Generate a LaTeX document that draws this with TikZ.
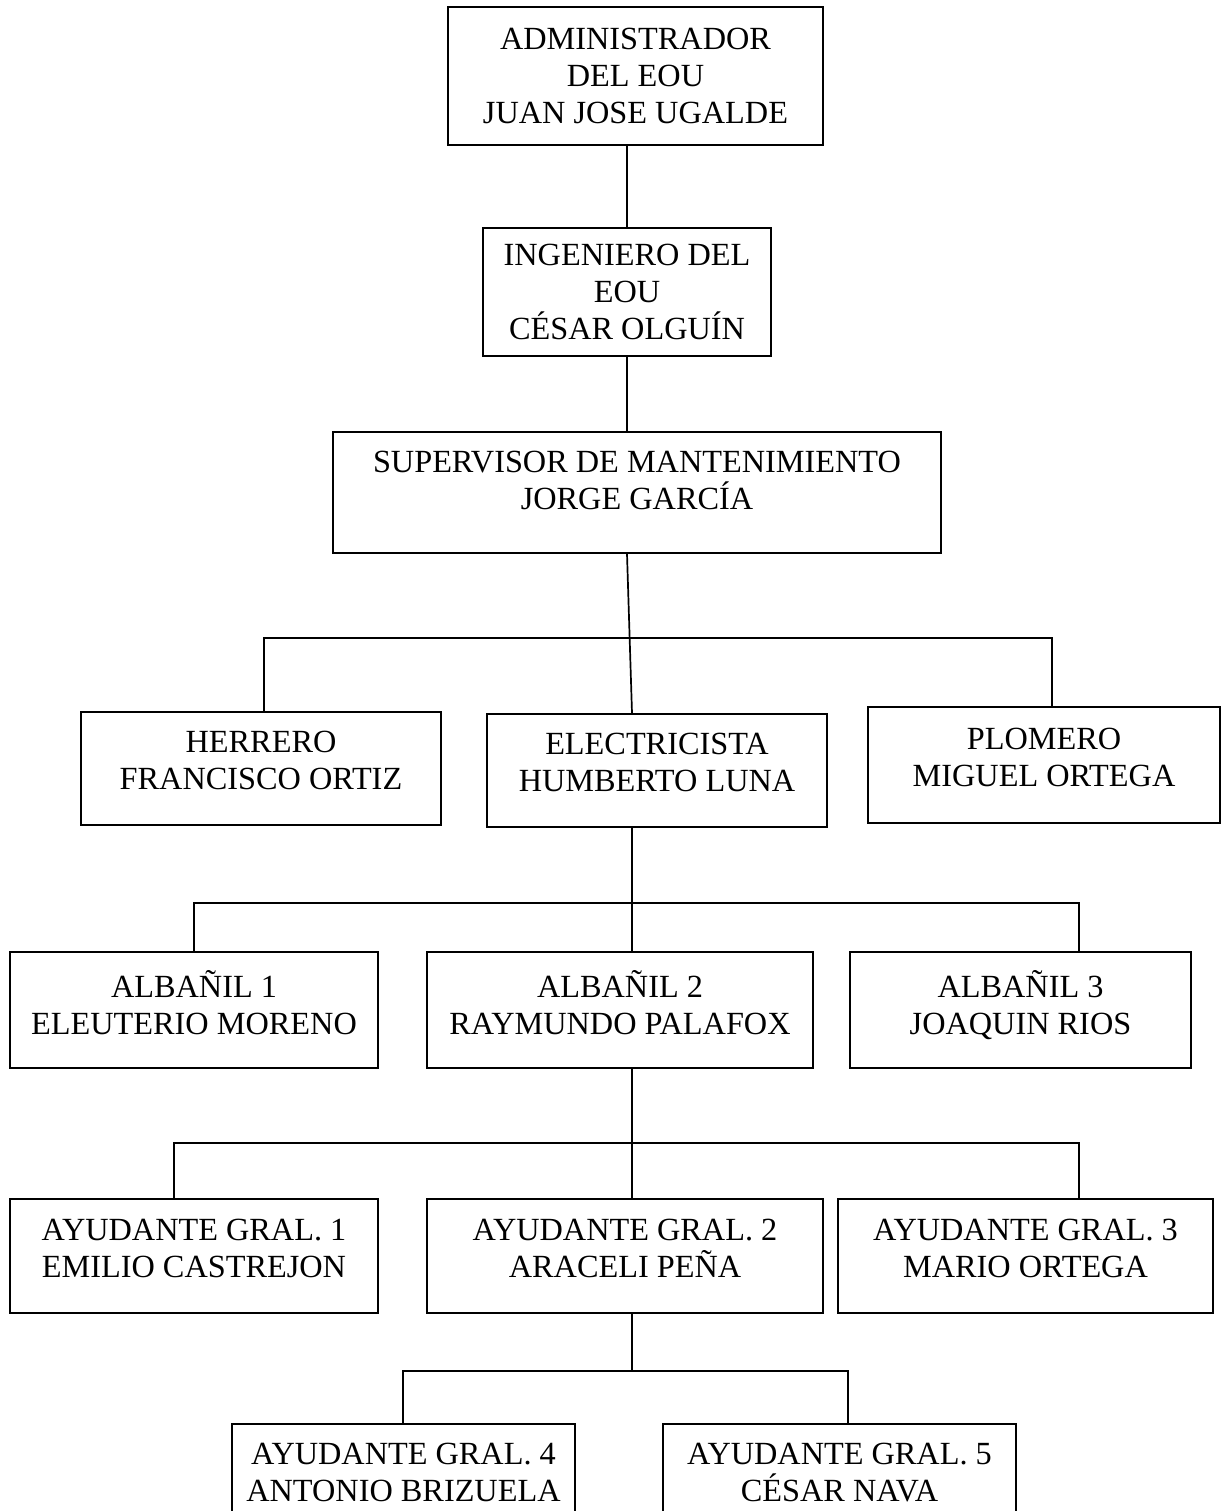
\documentclass[tikz,border=0pt]{standalone}
\usepackage{fontspec}
\setmainfont{Liberation Serif}
\newcommand{\hueco}[1]{\\[-#1]\mbox{}}
\tikzset{
  caja/.style={draw, line width=1.7pt, align=center, inner sep=0pt, font=\fontsize{32.3}{37}\selectfont},
  linea/.style={line width=1.7pt},
}
\begin{document}
\begin{tikzpicture}[x=1pt,y=-1pt]
\useasboundingbox (0,0) rectangle (1222,1511);
\node[caja, minimum width=375, minimum height=138] (adm) at (635.5,76) {ADMINISTRADOR\\DEL EOU\\JUAN JOSE UGALDE};
\node[caja, minimum width=288, minimum height=128] (ing) at (627,292) {INGENIERO DEL\\EOU\\CÉSAR OLGUÍN};
\node[caja, minimum width=608, minimum height=121] (sup) at (637,492.5) {SUPERVISOR DE MANTENIMIENTO\\JORGE GARCÍA\hueco{13pt}};
% oficios
\node[caja, minimum width=360, minimum height=113] (herr) at (261,768.5) {HERRERO\\FRANCISCO ORTIZ\hueco{21pt}};
\node[caja, minimum width=340, minimum height=113] (elec) at (657,770.5) {ELECTRICISTA\\HUMBERTO LUNA\hueco{21pt}};
\node[caja, minimum width=352, minimum height=116] (plom) at (1044,765) {PLOMERO\\MIGUEL ORTEGA\hueco{21pt}};
% albañiles
\node[caja, minimum width=368, minimum height=116] (alb1) at (194,1010) {ALBAÑIL 1\\ELEUTERIO MORENO\hueco{21pt}};
\node[caja, minimum width=386, minimum height=116] (alb2) at (620,1010) {ALBAÑIL 2\\RAYMUNDO PALAFOX\hueco{21pt}};
\node[caja, minimum width=341, minimum height=116] (alb3) at (1020.5,1010) {ALBAÑIL 3\\JOAQUIN RIOS\hueco{21pt}};
% ayudantes
\node[caja, minimum width=368, minimum height=114] (ayu1) at (194,1256) {AYUDANTE GRAL. 1\\EMILIO CASTREJON\hueco{21pt}};
\node[caja, minimum width=396, minimum height=114] (ayu2) at (625,1256) {AYUDANTE GRAL. 2\\ARACELI PEÑA\hueco{21pt}};
\node[caja, minimum width=375, minimum height=114] (ayu3) at (1025.5,1256) {AYUDANTE GRAL. 3\\MARIO ORTEGA\hueco{21pt}};
\node[caja, minimum width=343, minimum height=112] (ayu4) at (403.5,1480) {AYUDANTE GRAL. 4\\ANTONIO BRIZUELA\hueco{21pt}};
\node[caja, minimum width=353, minimum height=112] (ayu5) at (839.5,1480) {AYUDANTE GRAL. 5\\CÉSAR NAVA\hueco{21pt}};
% lineas
\coordinate (b1) at (632,638);
\coordinate (b1l) at (264,638);
\coordinate (b1r) at (1052,638);
\coordinate (b2l) at (194,903);
\coordinate (b2r) at (1079,903);
\coordinate (b3l) at (174,1143);
\coordinate (b3r) at (1079,1143);
\coordinate (b4) at (632,1371);
\coordinate (b4l) at (403,1371);
\coordinate (b4r) at (848,1371);
\draw[linea] (adm.south -| ing.north) -- (ing.north);
\draw[linea] (ing.south) -- (ing.south |- sup.north);
\draw[linea] (ing.south |- sup.south) -- (b1 |- elec.north);
\draw[linea] (b1l |- herr.north) -- (b1l) -- (b1r) -- (b1r |- plom.north);
\draw[linea] (b1 |- elec.south) -- (b1 |- alb2.north);
\draw[linea] (b2l |- alb1.north) -- (b2l) -- (b2r) -- (b2r |- alb3.north);
\draw[linea] (b1 |- alb2.south) -- (b1 |- ayu2.north);
\draw[linea] (b3l |- ayu1.north) -- (b3l) -- (b3r) -- (b3r |- ayu3.north);
\draw[linea] (b1 |- ayu2.south) -- (b4);
\draw[linea] (b4l |- ayu4.north) -- (b4l) -- (b4r) -- (b4r |- ayu5.north);
\end{tikzpicture}
\end{document}
